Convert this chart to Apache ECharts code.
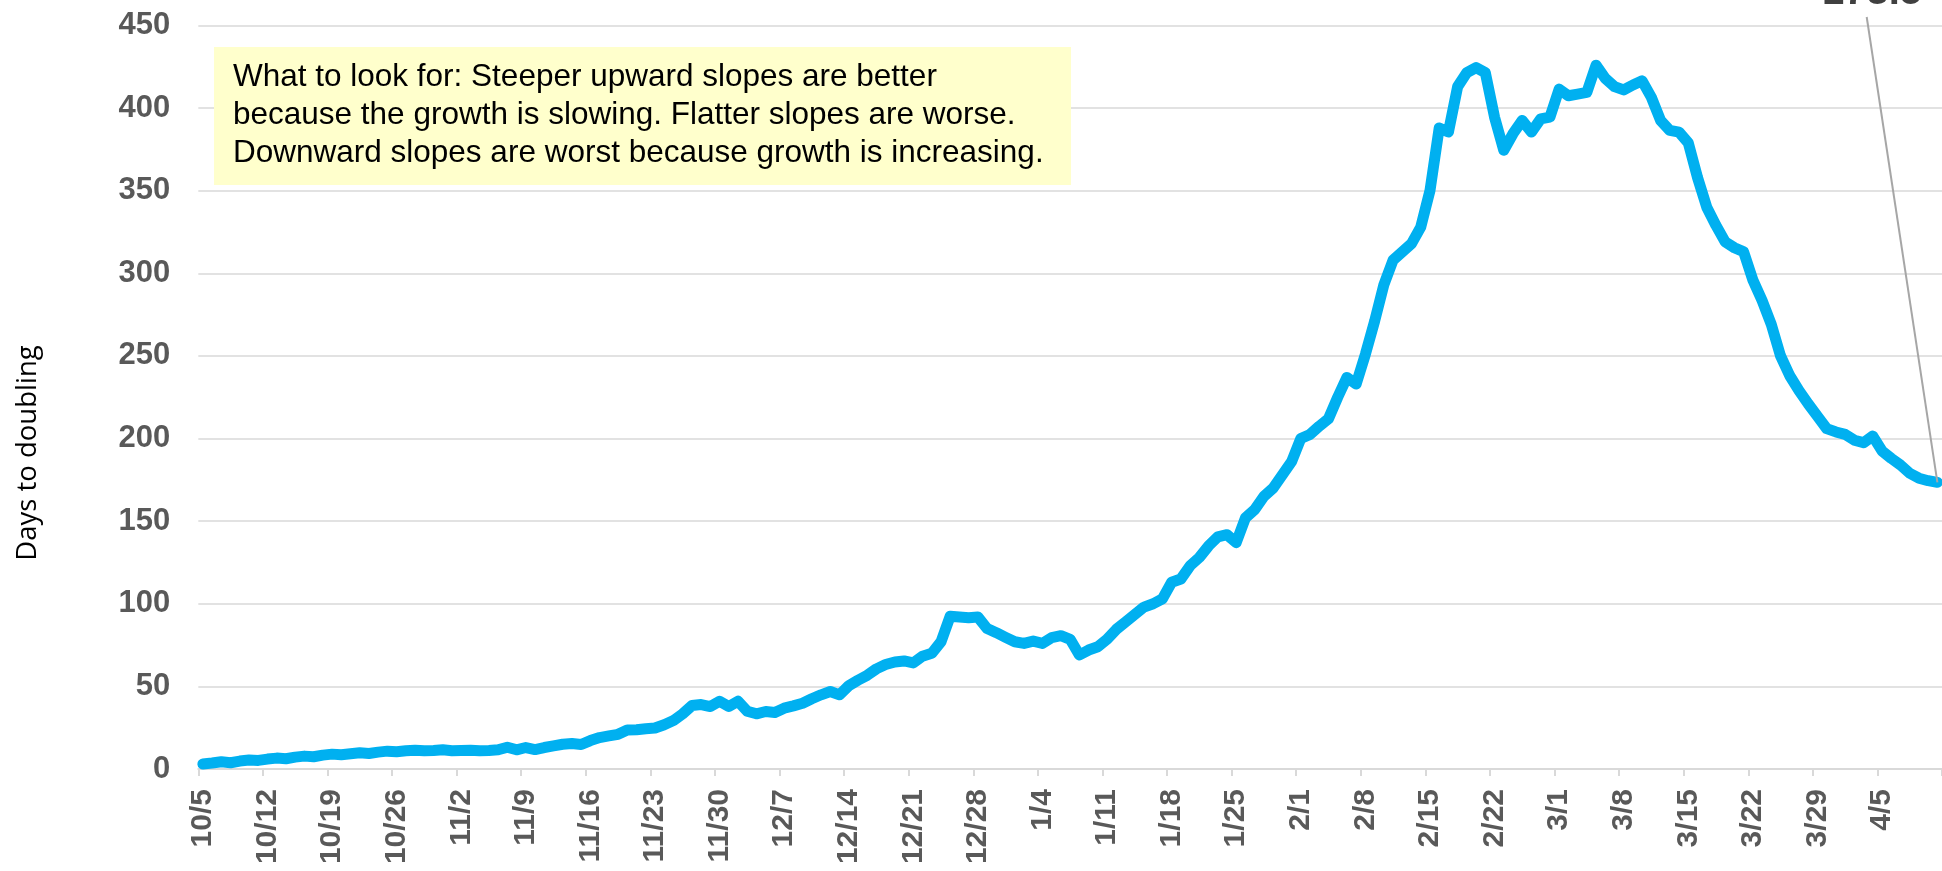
<!DOCTYPE html>
<html>
<head>
<meta charset="utf-8">
<script src="https://cdn.jsdelivr.net/npm/echarts@6/dist/echarts.min.js"></script>
<style>
html,body{margin:0;padding:0;background:#fff;}
#chart{width:1942px;height:871px;}
</style>
</head>
<body>
<div id="chart"></div>
<script>
const dates = [
'10/5','10/6','10/7','10/8','10/9','10/10','10/11','10/12','10/13','10/14','10/15','10/16','10/17','10/18','10/19','10/20','10/21','10/22','10/23','10/24','10/25','10/26','10/27','10/28','10/29','10/30','10/31',
'11/1','11/2','11/3','11/4','11/5','11/6','11/7','11/8','11/9','11/10','11/11','11/12','11/13','11/14','11/15','11/16','11/17','11/18','11/19','11/20','11/21','11/22','11/23','11/24','11/25','11/26','11/27','11/28','11/29','11/30',
'12/1','12/2','12/3','12/4','12/5','12/6','12/7','12/8','12/9','12/10','12/11','12/12','12/13','12/14','12/15','12/16','12/17','12/18','12/19','12/20','12/21','12/22','12/23','12/24','12/25','12/26','12/27','12/28','12/29','12/30','12/31',
'1/1','1/2','1/3','1/4','1/5','1/6','1/7','1/8','1/9','1/10','1/11','1/12','1/13','1/14','1/15','1/16','1/17','1/18','1/19','1/20','1/21','1/22','1/23','1/24','1/25','1/26','1/27','1/28','1/29','1/30','1/31',
'2/1','2/2','2/3','2/4','2/5','2/6','2/7','2/8','2/9','2/10','2/11','2/12','2/13','2/14','2/15','2/16','2/17','2/18','2/19','2/20','2/21','2/22','2/23','2/24','2/25','2/26','2/27','2/28',
'3/1','3/2','3/3','3/4','3/5','3/6','3/7','3/8','3/9','3/10','3/11','3/12','3/13','3/14','3/15','3/16','3/17','3/18','3/19','3/20','3/21','3/22','3/23','3/24','3/25','3/26','3/27','3/28','3/29','3/30','3/31',
'4/1','4/2','4/3','4/4','4/5','4/6','4/7','4/8','4/9','4/10','4/11'
];

const daysToDoubling = [
3.0,3.6,4.4,3.8,4.8,5.4,5.2,6.0,6.6,6.2,
7.2,7.8,7.4,8.4,9.0,8.6,9.2,9.8,9.4,10.2,
10.8,10.4,11.0,11.4,11.0,11.2,11.6,11.0,11.2,11.4,
11.0,11.2,11.6,13.2,11.6,13.0,11.8,13.0,14.0,15.0,
15.4,14.8,17.2,19.0,20.0,21.0,23.6,23.8,24.4,24.8,
26.8,29.3,33.4,38.4,39.0,37.8,41.0,37.8,41.0,35.0,
33.4,34.8,34.2,36.8,38.2,39.8,42.5,44.9,46.9,44.9,
50.4,53.7,56.7,60.6,63.2,64.8,65.4,64.2,68.3,70.0,
77.0,92.5,92.0,91.5,92.0,85.0,82.5,79.7,77.0,76.0,
77.4,76.0,79.5,80.7,78.5,69.0,72.0,74.0,78.5,84.5,
89.0,93.5,98.0,100.0,103.0,113.0,115.0,123.0,128.0,135.0,
140.5,141.8,137.0,152.0,157.0,165.0,170.0,178.0,186.0,200.0,
202.5,207.5,212.0,225.0,237.0,233.0,251.0,271.0,293.0,308.0,
313.0,318.0,328.0,350.0,388.0,385.5,413.0,421.5,424.5,421.5,
394.5,374.5,384.5,392.5,385.5,393.5,394.5,411.5,407.5,408.5,
409.5,426.0,418.0,413.0,411.0,414.0,416.5,406.5,392.5,386.5,
385.5,379.0,358.0,340.0,329.0,319.0,315.5,313.0,296.0,283.5,
269.0,250.0,238.0,229.0,221.0,213.5,206.0,204.0,202.5,199.0,
197.5,201.5,192.5,188.0,184.0,179.0,176.0,174.5,173.5
];

const yTicks = [0,50,100,150,200,250,300,350,400,450];
const yAxisTitle = 'Days to doubling';
const noteLines = [
  'What to look for: Steeper upward slopes are better',
  'because the growth is slowing. Flatter slopes are worse.',
  'Downward slopes are worst because growth is increasing.'
];

const lastIdx = daysToDoubling.length - 1;
const lastDate = dates[lastIdx];
const lastValue = daysToDoubling[lastIdx];

const chart = echarts.init(document.getElementById('chart'), null, { renderer: 'canvas' });
chart.setOption({
  animation: false,
  backgroundColor: '#ffffff',
  grid: { left: 198.3, right: -2.6, top: 25.5, bottom: 102, containLabel: false },
  xAxis: {
    type: 'category',
    data: dates,
    boundaryGap: true,
    axisLine: { show: true, lineStyle: { color: '#D9D9D9', width: 2 } },
    axisTick: { show: true, interval: 6, length: 7, lineStyle: { color: '#D9D9D9', width: 2 } },
    axisLabel: {
      interval: 6,
      rotate: 90,
      margin: 20,
      fontFamily: 'Liberation Sans, Arial, sans-serif',
      fontWeight: 'bold',
      fontSize: 30,
      color: '#595959'
    },
    splitLine: { show: false }
  },
  yAxis: {
    type: 'value',
    min: yTicks[0],
    max: yTicks[yTicks.length - 1],
    interval: yTicks[1] - yTicks[0],
    axisLine: { show: false },
    axisTick: { show: false },
    axisLabel: {
      margin: 28,
      fontFamily: 'Liberation Sans, Arial, sans-serif',
      fontWeight: 'bold',
      fontSize: 31,
      color: '#595959'
    },
    splitLine: { show: true, lineStyle: { color: '#D9D9D9', width: 1.5 } }
  },
  series: [{
    type: 'line',
    data: daysToDoubling,
    showSymbol: false,
    symbol: 'none',
    smooth: false,
    lineStyle: { color: '#00B0F0', width: 11, cap: 'round', join: 'round' },
    itemStyle: { color: '#00B0F0' },
    z: 3,
    markLine: {
      silent: true,
      symbol: ['none', 'none'],
      label: { show: false },
      lineStyle: { color: '#A6A6A6', width: 2, type: 'solid' },
      data: [[ { x: 1866.7, y: 17 }, { coord: [lastDate, lastValue] } ]]
    },
    markPoint: {
      silent: true,
      symbol: 'rect',
      symbolSize: 1,
      itemStyle: { color: 'rgba(0,0,0,0)' },
      data: [{ x: 1872, y: -7, value: lastValue }],
      label: {
        show: true,
        position: 'inside',
        formatter: function (p) { return String(p.value); },
        fontFamily: 'Liberation Sans, Arial, sans-serif',
        fontWeight: 'bold',
        fontSize: 40,
        color: '#404040'
      }
    }
  }],
  graphic: [
    {
      type: 'rect',
      left: 214, top: 47,
      shape: { width: 857, height: 138 },
      style: { fill: '#FFFFCC' },
      z: 10
    },
    {
      type: 'text',
      x: 233, y: 58,
      style: {
        text: noteLines.join('\n'),
        fontFamily: 'Liberation Sans, Arial, sans-serif',
        fontSize: 31.5,
        lineHeight: 38,
        fill: '#000000',
        align: 'left',
        verticalAlign: 'top'
      },
      z: 11
    },
    {
      type: 'text',
      x: 28, y: 453,
      rotation: Math.PI / 2,
      style: {
        text: yAxisTitle,
        fontFamily: 'Open Sans, Liberation Sans, sans-serif',
        fontSize: 27.5,
        fill: '#000000',
        align: 'center',
        verticalAlign: 'middle'
      },
      z: 11
    }
  ]
});
</script>
</body>
</html>
